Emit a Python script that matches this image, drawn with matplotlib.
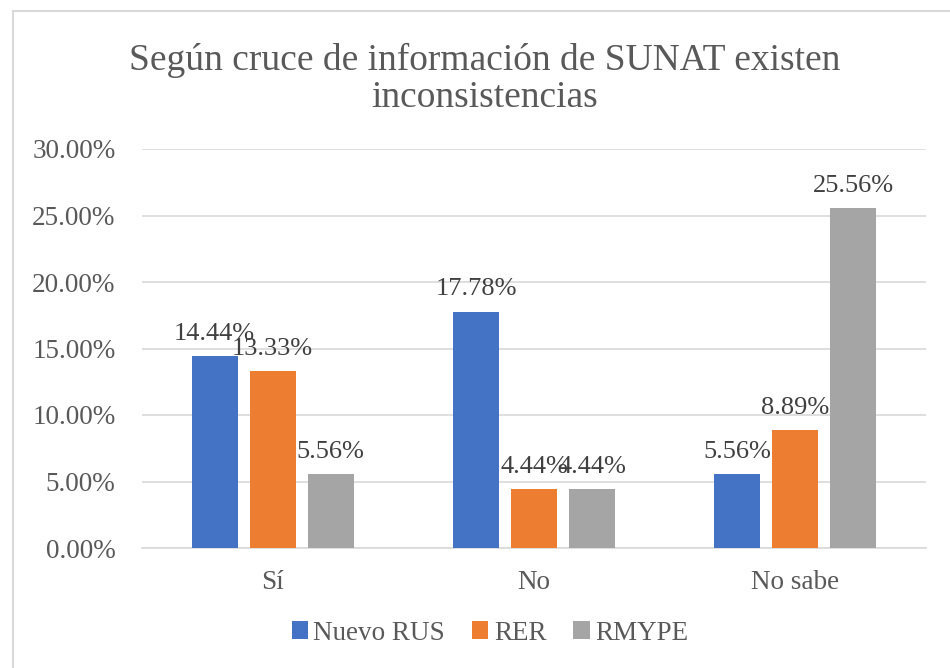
import matplotlib
matplotlib.use("Agg")
import matplotlib.pyplot as plt
from matplotlib.patches import Rectangle
import numpy as np

categories = ["Sí", "No", "No sabe"]
series_names = ["Nuevo RUS", "RER", "RMYPE"]
nuevo_rus = [0.1444, 0.1778, 0.0556]
rer = [0.1333, 0.0444, 0.0889]
rmype = [0.0556, 0.0444, 0.2556]
yticks = [0.0, 0.05, 0.10, 0.15, 0.20, 0.25, 0.30]
title = "Según cruce de información de SUNAT existen\ninconsistencias"

colors = ["#4472C4", "#ED7D31", "#A5A5A5"]
serif = ["Liberation Serif", "DejaVu Serif"]
plt.rcParams["font.family"] = serif

W, H = 950, 668
fig = plt.figure(figsize=(W / 100, H / 100), dpi=100)
fig.patch.set_facecolor("white")

# chart border (Excel chart area)
fig.add_artist(Rectangle((13 / W, -0.1), 1.2, (H - 11) / H + 0.1,
                         transform=fig.transFigure, fill=False,
                         edgecolor="#D9D9D9", linewidth=1.5))

ax = fig.add_axes([142 / W, (H - 548) / H, (926 - 142) / W, (548 - 149) / H])
x = np.arange(len(categories))
step = 0.222
width = 0.176
all_series = [nuevo_rus, rer, rmype]
for i, (vals, name, c) in enumerate(zip(all_series, series_names, colors)):
    pos = x + (i - 1) * step
    ax.bar(pos, vals, width=width, color=c, label=name, zorder=3)
    for px, v in zip(pos, vals):
        ax.annotate(f"{v * 100:.2f}%", (px, v), xytext=(0, 8),
                    textcoords="offset points", ha="center", va="bottom",
                    fontsize=19, color="#404040", zorder=4)

ax.set_xlim(-0.5, 2.5)
ax.set_ylim(0, 0.30)
ax.set_yticks(yticks)
ax.set_yticklabels([f"{t * 100:.2f}%" for t in yticks])
ax.set_xticks(x)
ax.set_xticklabels(categories)
ax.tick_params(axis="both", length=0, labelsize=19.5, labelcolor="#595959")
ax.tick_params(axis="y", pad=19)
ax.tick_params(axis="x", pad=16)
ax.grid(axis="y", color="#D9D9D9", linewidth=1.2, zorder=0)
for s in ["top", "right", "left"]:
    ax.spines[s].set_visible(False)
ax.spines["bottom"].set_color("#D9D9D9")
ax.spines["bottom"].set_linewidth(1.2)

fig.text(485 / W, 1 - 79 / H, title, ha="center", va="center",
         fontsize=27, color="#595959", linespacing=1.1)

leg = fig.legend(loc="center", bbox_to_anchor=(490 / W, 1 - 633 / H),
                 ncol=3, frameon=False, fontsize=19.5, handlelength=0.6,
                 handleheight=0.6, handletextpad=0.2, columnspacing=1.0)
for t in leg.get_texts():
    t.set_color("#595959")

fig.savefig("out.png", dpi=100, facecolor="white")
